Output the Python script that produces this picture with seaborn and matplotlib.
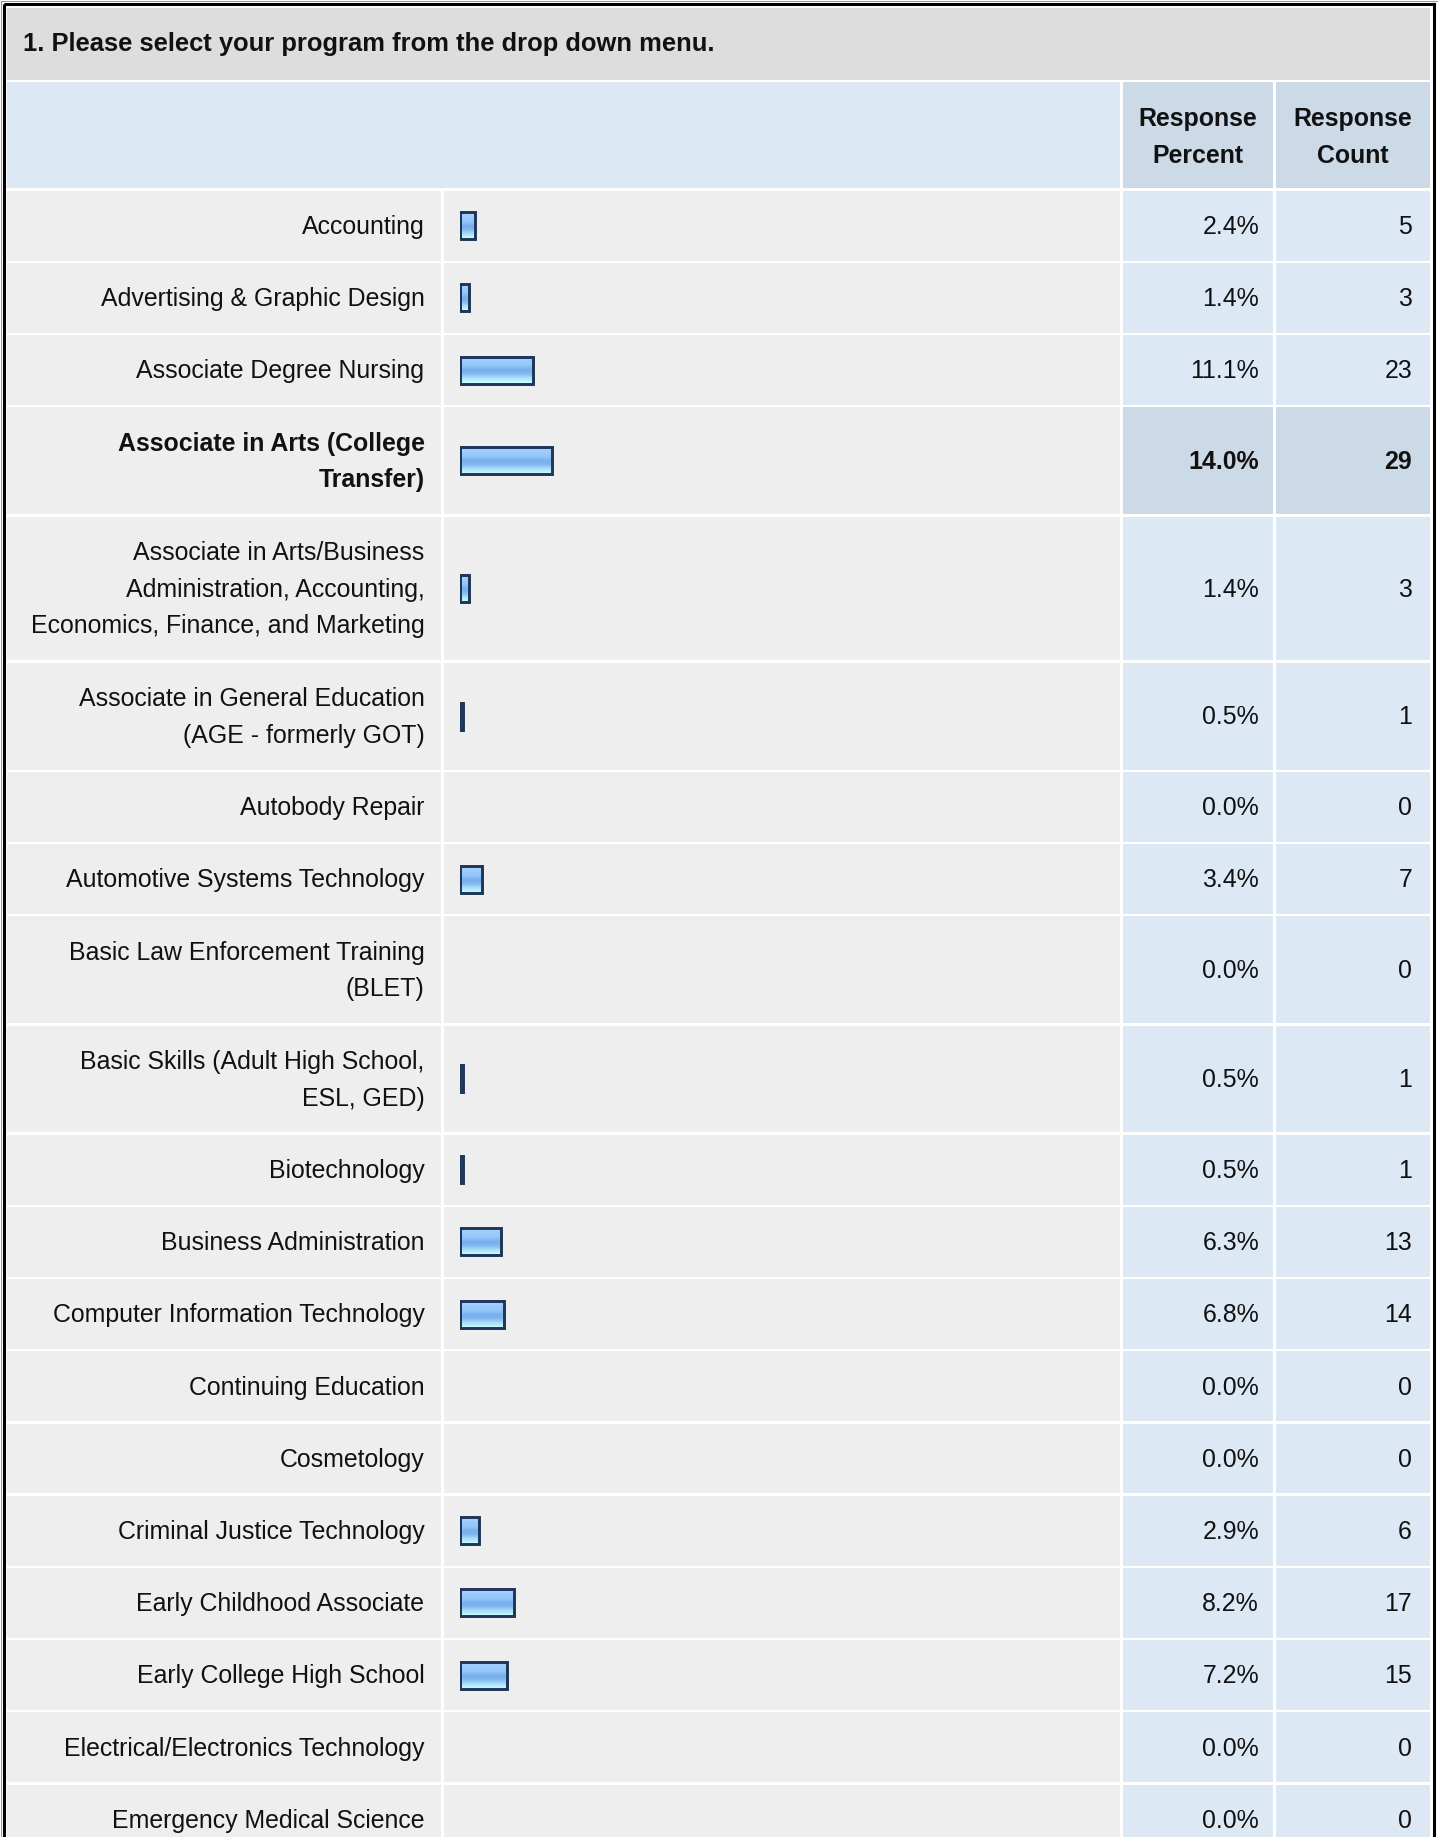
import numpy as np
import pandas as pd
import seaborn as sns
import matplotlib.pyplot as plt
from matplotlib.patches import Rectangle
from matplotlib.colors import LinearSegmentedColormap

# survey answers (line breaks as shown in the table)
programs = [
    "Accounting",
    "Advertising & Graphic Design",
    "Associate Degree Nursing",
    "Associate in Arts (College\nTransfer)",
    "Associate in Arts/Business\nAdministration, Accounting,\nEconomics, Finance, and Marketing",
    "Associate in General Education\n(AGE - formerly GOT)",
    "Autobody Repair",
    "Automotive Systems Technology",
    "Basic Law Enforcement Training\n(BLET)",
    "Basic Skills (Adult High School,\nESL, GED)",
    "Biotechnology",
    "Business Administration",
    "Computer Information Technology",
    "Continuing Education",
    "Cosmetology",
    "Criminal Justice Technology",
    "Early Childhood Associate",
    "Early College High School",
    "Electrical/Electronics Technology",
    "Emergency Medical Science",
]
percents = [2.4, 1.4, 11.1, 14.0, 1.4, 0.5, 0.0, 3.4, 0.0, 0.5,
            0.5, 6.3, 6.8, 0.0, 0.0, 2.9, 8.2, 7.2, 0.0, 0.0]
counts = [5, 3, 23, 29, 3, 1, 0, 7, 0, 1, 1, 13, 14, 0, 0, 6, 17, 15, 0, 0]
top_answer = "Associate in Arts (College\nTransfer)"

title = "1. Please select your program from the drop down menu."
col_headers = ["Response\nPercent", "Response\nCount"]

W, H = 1438, 1837
plt.rcParams['font.family'] = ['Liberation Sans', 'DejaVu Sans']
FS = 17.9
LINE = 36.7
BASE = 8.3   # baseline offset below the centre of a line

c_title = "#dddddd"
c_head = "#dde8f5"
c_head_dark = "#ccd9e6"
c_row = "#eeeeee"
c_val = "#dde8f5"

fig = plt.figure(figsize=(W / 100, H / 100), dpi=100)
fig.patch.set_facecolor("white")
ax = fig.add_axes([0, 0, 1, 1])
ax.set_xlim(0, W)
ax.set_ylim(H, 0)
ax.axis("off")

# columns: label, bar, percent, count
cols = [(7, 441), (444, 1120), (1123, 1273), (1276, 1430)]


def cell(x0, x1, y0, y1, color):
    ax.add_patch(Rectangle((x0, y0), x1 - x0, y1 - y0, facecolor=color,
                           edgecolor="none", zorder=0))


def lines_text(x, yc, txt, ha, bold=False):
    parts = txt.split("\n")
    n = len(parts)
    for i, s in enumerate(parts):
        y = yc + (i - (n - 1) / 2) * LINE + BASE
        ax.text(x, y, s, ha=ha, va="baseline", fontsize=FS,
                fontweight="bold" if bold else "normal", color="#111111")


# outer frame
ax.add_patch(Rectangle((0.5, 0.5), W - 1, H + 20, fill=False,
                       edgecolor="#999999", linewidth=0.72, zorder=5))
ax.add_patch(Rectangle((3.5, 3.5), 1430, H + 20, fill=False,
                       edgecolor="black", linewidth=2.2, zorder=5))

# title band
cell(7, 1430, 8, 80, c_title)
ax.text(23, 51, title, ha="left", va="baseline", fontsize=18.4,
        fontweight="bold", color="#111111")

# header row
cell(cols[0][0], cols[1][1], 82, 188, c_head)
for (x0, x1), hd in zip(cols[2:], col_headers):
    cell(x0, x1, 82, 188, c_head_dark)
    lines_text((x0 + x1) / 2, 136, hd, "center", bold=True)

# row geometry from number of label lines
nlines = np.array([p.count("\n") + 1 for p in programs])
heights = 72.2 + 37 * (nlines - 1)
bounds = 189.5 + np.concatenate([[0], np.cumsum(heights)])
centers = (bounds[:-1] + bounds[1:]) / 2

for i, prog in enumerate(programs):
    y0, y1 = bounds[i] + 1.2, bounds[i + 1] - 1.2
    hl = prog == top_answer
    cell(*cols[0], y0, y1, c_row)
    cell(*cols[1], y0, y1, c_row)
    cell(*cols[2], y0, y1, c_head_dark if hl else c_val)
    cell(*cols[3], y0, y1, c_head_dark if hl else c_val)
    lines_text(424.5, centers[i], prog, "right", bold=hl)
    lines_text(1259, centers[i], f"{percents[i]:.1f}%", "right", bold=hl)
    lines_text(1412, centers[i], f"{counts[i]}", "right", bold=hl)

# bars
bar_left, bar_right = 459.5, 1118
px_per_pct = 6.6
bar_h = 27

df = pd.DataFrame({"program": programs, "pct": percents, "ypos": centers})
shown = df[df["pct"] > 0]
step = np.diff(np.unique(shown["ypos"])).min()

axb = fig.add_axes([bar_left / W, 0, (bar_right - bar_left) / W, 1])
sns.barplot(data=shown, x="pct", y="ypos", orient="y", native_scale=True,
            width=bar_h / step, color="#88bbee", edgecolor="#1d3557",
            linewidth=2.1, errorbar=None, ax=axb)

grad = LinearSegmentedColormap.from_list(
    "barfill", [(0.0, "#a6d2ff"), (0.35, "#94c6fa"), (0.5, "#78aeea"),
                (0.65, "#82b8ef"), (0.8, "#a8dcf9"), (1.0, "#ccffff")])
gimg = grad(np.linspace(0, 1, 64))[:, None, :]
for p in list(axb.patches):
    x0, w = p.get_x(), p.get_width()
    y0, h = p.get_y(), p.get_height()
    im = axb.imshow(gimg, extent=[x0, x0 + w, y0 + h, y0], aspect="auto",
                    interpolation="bilinear", zorder=1)
    im.set_clip_path(p)
    p.set_facecolor("none")
    p.set_zorder(2)

axb.set_xlim(0, (bar_right - bar_left) / px_per_pct)
axb.set_ylim(H, 0)
axb.axis("off")

fig.savefig("out.png", dpi=100)
